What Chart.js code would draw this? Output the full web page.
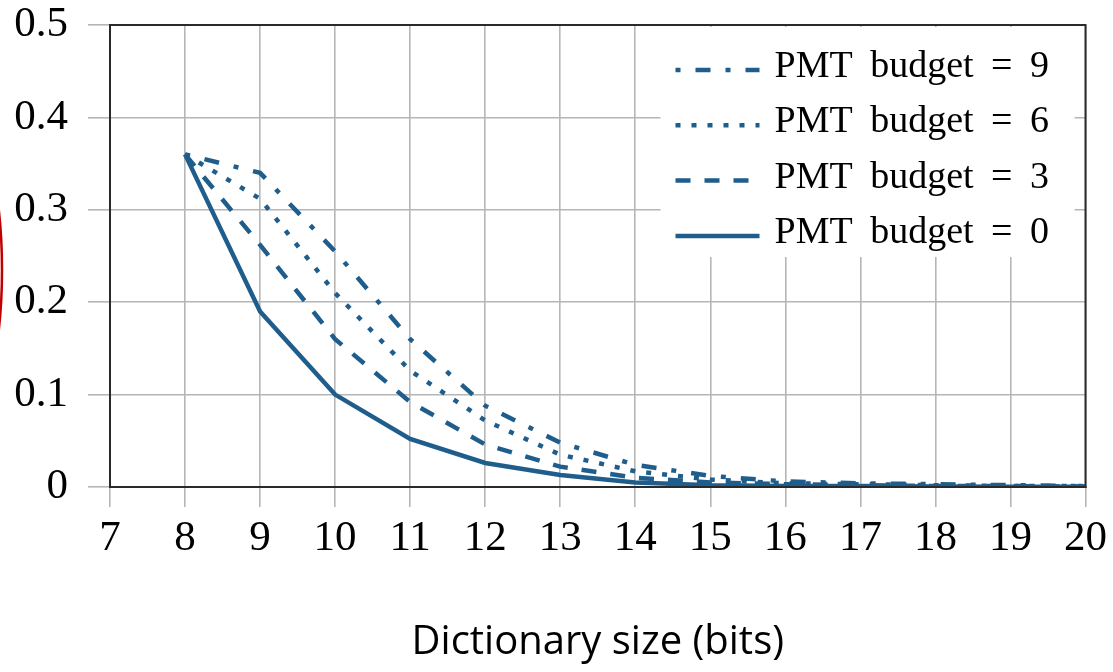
<!DOCTYPE html>
<html>
<head>
<meta charset="utf-8">
<script src="https://cdn.jsdelivr.net/npm/chart.js@4/dist/chart.umd.min.js"></script>
<style>
  html, body { margin: 0; padding: 0; background: #fff; }
  #wrap { width: 1113px; height: 672px; position: relative; }
</style>
</head>
<body>
<div id="wrap"><canvas id="c" width="1113" height="672"></canvas></div>
<script>
// Dictionary sizes (bits) on the x axis
const dictSizes = [8, 9, 10, 11, 12, 13, 14, 15, 16, 17, 18, 19, 20];

// Error rate per PMT budget
const budget9 = [0.360, 0.340, 0.255, 0.160, 0.088, 0.048, 0.024, 0.012, 0.006, 0.004, 0.003, 0.002, 0.001];
const budget6 = [0.360, 0.312, 0.210, 0.126, 0.072, 0.035, 0.017, 0.008, 0.004, 0.003, 0.002, 0.001, 0.001];
const budget3 = [0.360, 0.262, 0.160, 0.092, 0.046, 0.022, 0.010, 0.005, 0.003, 0.002, 0.001, 0.001, 0.0005];
const budget0 = [0.360, 0.190, 0.100, 0.052, 0.026, 0.013, 0.005, 0.002, 0.001, 0.001, 0.0005, 0.0003, 0.0002];

const seriesLabels = ['PMT budget = 9', 'PMT budget = 6', 'PMT budget = 3', 'PMT budget = 0'];

// Axis ticks
const xTickValues = [7, 8, 9, 10, 11, 12, 13, 14, 15, 16, 17, 18, 19, 20];
const yTickValues = [0, 0.1, 0.2, 0.3, 0.4, 0.5];

const LINE = '#1f5e8c';
const GRID = '#b6b6b6';
const SERIF = '"Liberation Serif", "Times New Roman", serif';

function toPoints(values) {
  return dictSizes.map((x, i) => ({ x: x, y: values[i] }));
}

const styles = [
  { dash: [5, 15, 15, 15] },   // dash-dot
  { dash: [5, 11] },           // dotted
  { dash: [15, 14] },          // dashed
  { dash: [] }                 // solid
];
const seriesValues = [budget9, budget6, budget3, budget0];

const datasets = seriesValues.map((vals, i) => ({
  label: seriesLabels[i],
  data: toPoints(vals),
  borderColor: LINE,
  backgroundColor: LINE,
  borderWidth: 4.5,
  borderDash: styles[i].dash,
  borderCapStyle: 'butt',
  borderJoinStyle: 'miter',
  pointRadius: 0,
  fill: false,
  tension: 0
}));

// Legend box in the upper right of the plot, plus the frame round the plot
const plotDecor = {
  id: 'plotDecor',
  afterDatasetsDraw(chart) {
    const { ctx, chartArea } = chart;
    ctx.save();
    const boxL = chartArea.right - 425, boxT = chartArea.top + 2;
    ctx.fillStyle = '#fff';
    ctx.fillRect(boxL, boxT, 414, 230);
    chart.data.datasets.forEach((ds, i) => {
      const base = chartArea.top + 52 + i * 55.3;
      const yLine = base - 7;
      ctx.strokeStyle = ds.borderColor;
      ctx.lineWidth = ds.borderWidth;
      ctx.lineCap = 'butt';
      ctx.setLineDash(ds.borderDash);
      ctx.beginPath();
      ctx.moveTo(boxL + 15, yLine);
      ctx.lineTo(boxL + 99, yLine);
      ctx.stroke();
      ctx.setLineDash([]);
      ctx.fillStyle = '#000';
      ctx.font = '38px ' + SERIF;
      ctx.textBaseline = 'alphabetic';
      ctx.textAlign = 'left';
      if ('wordSpacing' in ctx) ctx.wordSpacing = '8px';
      ctx.fillText(ds.label, boxL + 114, base);
      if ('wordSpacing' in ctx) ctx.wordSpacing = '0px';
    });
    ctx.restore();
  },
  afterDraw(chart) {
    const { ctx, chartArea } = chart;
    ctx.save();
    ctx.strokeStyle = '#2a2a2a';
    ctx.lineWidth = 2;
    ctx.strokeRect(chartArea.left, chartArea.top, chartArea.right - chartArea.left, chartArea.bottom - chartArea.top);
    // red outline arc at the left edge
    ctx.strokeStyle = '#c00000';
    ctx.lineWidth = 2.5;
    ctx.beginPath();
    ctx.ellipse(-61, 270, 63, 185, 0, -Math.PI / 2, Math.PI / 2);
    ctx.stroke();
    ctx.restore();
  }
};

new Chart(document.getElementById('c'), {
  type: 'line',
  data: { datasets },
  options: {
    responsive: false,
    animation: false,
    devicePixelRatio: 1,
    layout: { padding: { left: 0, top: 25, right: 25, bottom: 0 } },
    plugins: { legend: { display: false }, tooltip: { enabled: false } },
    scales: {
      x: {
        type: 'linear',
        min: 7, max: 20,
        afterBuildTicks: s => { s.ticks = xTickValues.map(v => ({ value: v })); },
        afterFit: s => { s.height = 185; },
        grid: { color: GRID, lineWidth: 1.6, drawTicks: true, tickLength: 20, tickColor: GRID },
        border: { display: true, color: '#2a2a2a', width: 2 },
        ticks: {
          autoSkip: false, maxRotation: 0, color: '#000', padding: 6,
          font: { family: SERIF, size: 43 },
          callback: v => String(v)
        },
        title: {
          display: true, text: 'Dictionary size (bits)', color: '#000',
          font: { family: '"Open Sans", Lato, sans-serif', size: 40 },
          padding: { top: 0, bottom: 5 }
        }
      },
      y: {
        type: 'linear',
        min: 0, max: 0.5,
        afterBuildTicks: s => { s.ticks = yTickValues.map(v => ({ value: v })); },
        afterFit: s => { s.width = 110; s.paddingTop = 0; s.paddingBottom = 0; },
        grid: { color: GRID, lineWidth: 1.6, drawTicks: true, tickLength: 22, tickColor: GRID },
        border: { display: true, color: '#2a2a2a', width: 2 },
        ticks: {
          color: '#000', padding: 20,
          font: { family: SERIF, size: 43 },
          callback: v => (v === 0 ? '0' : v.toFixed(1))
        }
      }
    }
  },
  plugins: [plotDecor]
});
</script>
</body>
</html>
